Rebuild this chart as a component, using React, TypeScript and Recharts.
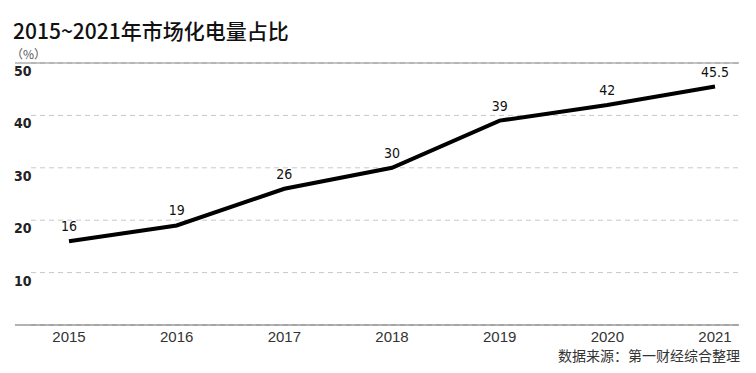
import React from 'react'
import { LineChart, Line, XAxis, YAxis, CartesianGrid, ReferenceLine, LabelList } from 'recharts'

const years = ['2015', '2016', '2017', '2018', '2019', '2020', '2021']
const shares = [16, 19, 26, 30, 39, 42, 45.5]
const yTicks = [10, 20, 30, 40, 50]

const data = years.map((year, i) => ({ year, share: shares[i] }))

const numFont = '"DejaVu Sans Condensed", "DejaVu Sans", sans-serif'
const cjkFont = '"Noto Sans CJK SC", "Noto Sans", sans-serif'

const renderYTick = (props: any) => (
  <text
    key={`yt-${props.payload.value}`}
    x={14}
    y={props.y + 9}
    fontSize={14}
    fontWeight={700}
    fill="#222"
    fontFamily={numFont}
    dominantBaseline="middle"
  >
    {props.payload.value}
  </text>
)

const GridLine = (props: any) => (
  <line
    key={props.key ?? `g-${props.y1}`}
    x1={props.x1 + 16}
    x2={props.x2}
    y1={props.y1}
    y2={props.y2}
    stroke="#c8c8c8"
    strokeDasharray="5 4"
    strokeWidth={1}
  />
)

export default function App() {
  return (
    <div style={{ position: 'absolute', left: 0, top: 0, width: 756, height: 373, background: '#fff' }}>
      <div style={{ position: 'absolute', left: 13, top: 18, fontFamily: cjkFont, fontSize: 21, fontWeight: 500, color: '#111', lineHeight: '24px' }}>
        2015~2021年市场化电量占比
      </div>
      <div style={{ position: 'absolute', left: 11, top: 47, fontFamily: cjkFont, fontSize: 12, color: '#555', lineHeight: '14px' }}>
        （%）
      </div>
      <LineChart width={756} height={373} data={data} margin={{ top: 63, right: 17, bottom: 18, left: 14 }}>
        <CartesianGrid vertical={false} horizontal={GridLine} />
        <XAxis
          dataKey="year"
          height={30}
          tickLine={false}
          axisLine={{ stroke: '#666', strokeWidth: 1 }}
          padding={{ left: 54, right: 24 }}
          tick={{ fill: '#333', fontSize: 15, fontFamily: '"Liberation Sans", Arial, sans-serif' }}
          tickMargin={0}
        />
        <YAxis width={1} domain={[0, 50]} ticks={yTicks} axisLine={false} tickLine={false} tick={renderYTick} />
        <ReferenceLine y={50} stroke="#888" strokeWidth={1} />
        <Line
          type="linear"
          dataKey="share"
          stroke="#000"
          strokeWidth={4}
          dot={false}
          isAnimationActive={false}
        >
          <LabelList dataKey="share" position="top" offset={10} fontSize={14} fill="#111" fontFamily={numFont} />
        </Line>
      </LineChart>
      <div style={{ position: 'absolute', right: 16, top: 345, fontFamily: cjkFont, fontSize: 14, color: '#333', lineHeight: '20px' }}>
        数据来源：第一财经综合整理
      </div>
    </div>
  )
}
